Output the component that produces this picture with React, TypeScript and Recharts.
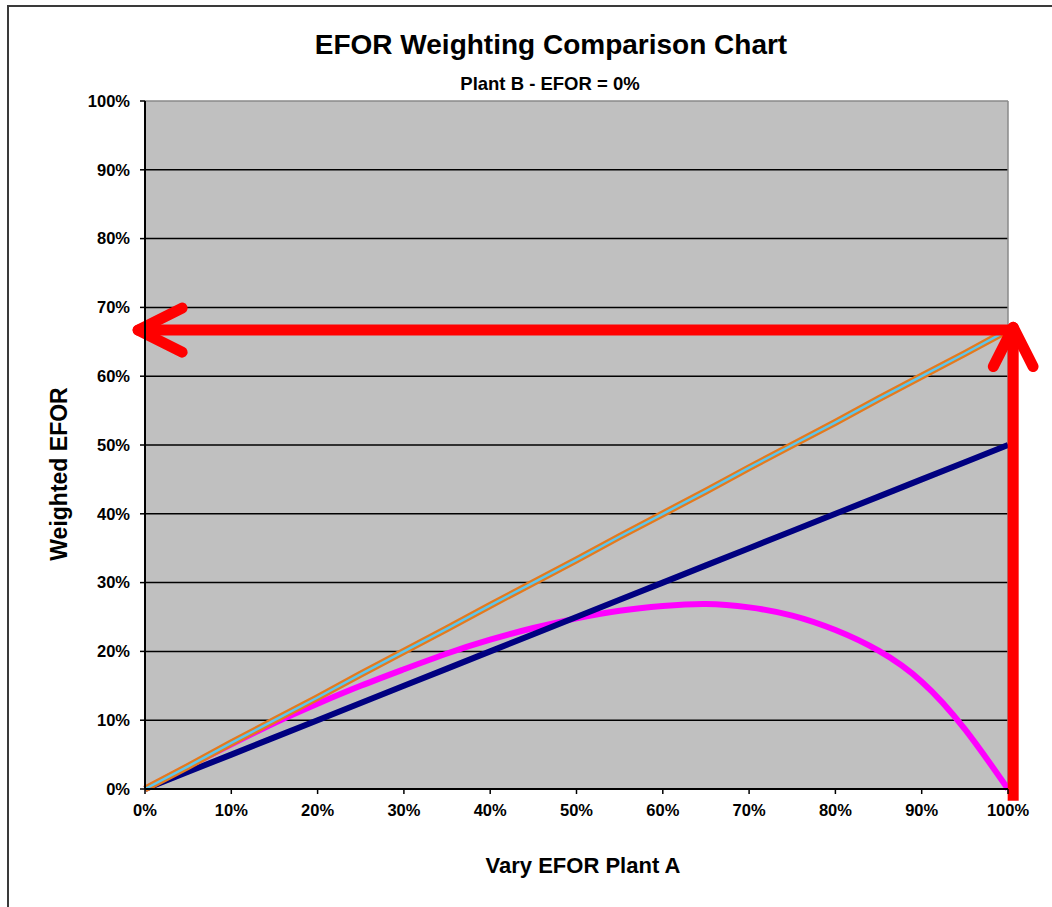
import { LineChart, Line, XAxis, YAxis, CartesianGrid, ReferenceLine } from 'recharts';

// Vary EFOR of plant A (x, %) against the weighted EFOR (y, %)
const plantA = [0, 5, 10, 15, 20, 25, 30, 35, 40, 45, 50, 55, 60, 65, 70, 75, 80, 85, 90, 95, 100];
const orangeSeries = [0, 3.3, 6.7, 10, 13.3, 16.7, 20, 23.3, 26.7, 30, 33.3, 36.7, 40, 43.3, 46.7, 50, 53.3, 56.7, 60, 63.3, 66.7];
const cyanSeries = [0, 3.3, 6.7, 10, 13.3, 16.7, 20, 23.3, 26.7, 30, 33.3, 36.7, 40, 43.3, 46.7, 50, 53.3, 56.7, 60, 63.3, 66.7];
const navySeries = [0, 2.5, 5, 7.5, 10, 12.5, 15, 17.5, 20, 22.5, 25, 27.5, 30, 32.5, 35, 37.5, 40, 42.5, 45, 47.5, 50];
const magentaSeries = [0, 3.3, 6.5, 9.6, 12.4, 15.0, 17.4, 19.7, 21.7, 23.4, 24.8, 25.9, 26.6, 26.9, 26.4, 25.2, 23.1, 20.1, 15.6, 8.7, 0];

const xTicks = [0, 10, 20, 30, 40, 50, 60, 70, 80, 90, 100];
const yTicks = [0, 10, 20, 30, 40, 50, 60, 70, 80, 90, 100];
const innerGrid = [10, 20, 30, 40, 50, 60, 70, 80, 90];

const data = plantA.map((x, i) => ({
  x,
  orange: orangeSeries[i],
  cyan: cyanSeries[i],
  navy: navySeries[i],
  magenta: magentaSeries[i],
}));

const FONT = '"Liberation Sans", Arial, sans-serif';
const tickStyle = { fill: '#000', fontSize: 16.5, fontWeight: 700, fontFamily: FONT };
const RED = '#FF0000';

export default function App() {
  return (
    <div style={{ position: 'absolute', left: 0, top: 0, width: 1052, height: 907, background: '#fff', overflow: 'hidden' }}>
      <div
        style={{
          position: 'absolute',
          left: 7,
          top: 5,
          width: 1100,
          height: 1000,
          borderLeft: '2px solid #3a3a3a',
          borderTop: '2px solid #3a3a3a',
        }}
      />
      <LineChart
        width={1052}
        height={907}
        data={data}
        margin={{ top: 101, right: 44, bottom: 88, left: 85 }}
        style={{ position: 'absolute', left: 0, top: 0 }}
      >
        <CartesianGrid
          vertical={false}
          horizontalValues={innerGrid}
          stroke="#000"
          strokeWidth={1.5}
          fill="#C0C0C0"
          fillOpacity={1}
        />
        <XAxis
          dataKey="x"
          type="number"
          domain={[0, 100]}
          ticks={xTicks}
          tickFormatter={(v: number) => `${v}%`}
          tick={tickStyle}
          axisLine={{ stroke: '#000', strokeWidth: 2 }}
          tickLine={{ stroke: '#000', strokeWidth: 1.5 }}
          tickSize={5}
          tickMargin={10}
          height={30}
          interval={0}
        />
        <YAxis
          type="number"
          domain={[0, 100]}
          ticks={yTicks}
          tickFormatter={(v: number) => `${v}%`}
          tick={tickStyle}
          axisLine={{ stroke: '#000', strokeWidth: 2 }}
          tickLine={{ stroke: '#000', strokeWidth: 1.5 }}
          tickSize={5}
          tickMargin={10}
          width={60}
          interval={0}
        />
        <ReferenceLine y={100} stroke="#8a8a8a" strokeWidth={1.5} />
        <ReferenceLine x={100} stroke="#8a8a8a" strokeWidth={1.5} />
        <Line type="natural" dataKey="magenta" stroke="#FF00FF" strokeWidth={6} dot={false} isAnimationActive={false} />
        <Line type="linear" dataKey="navy" stroke="#000080" strokeWidth={6} dot={false} isAnimationActive={false} />
        <Line type="linear" dataKey="orange" stroke="#E47A1E" strokeWidth={7} dot={false} isAnimationActive={false} />
        <Line type="linear" dataKey="cyan" stroke="#5CC6EE" strokeWidth={2.5} dot={false} isAnimationActive={false} />
        {/* red annotation arrows */}
        <ReferenceLine segment={[{ x: -0.8, y: 66.7 }, { x: 100.6, y: 66.7 }]} stroke={RED} strokeWidth={11} ifOverflow="visible" />
        <ReferenceLine segment={[{ x: -0.8, y: 66.7 }, { x: 4.3, y: 69.9 }]} stroke={RED} strokeWidth={11} strokeLinecap="round" ifOverflow="visible" />
        <ReferenceLine segment={[{ x: -0.8, y: 66.7 }, { x: 4.3, y: 63.5 }]} stroke={RED} strokeWidth={11} strokeLinecap="round" ifOverflow="visible" />
        <ReferenceLine segment={[{ x: 100.6, y: -1.7 }, { x: 100.6, y: 67.1 }]} stroke={RED} strokeWidth={11} ifOverflow="visible" />
        <ReferenceLine segment={[{ x: 100.6, y: 67.1 }, { x: 98.3, y: 61.4 }]} stroke={RED} strokeWidth={11} strokeLinecap="round" ifOverflow="visible" />
        <ReferenceLine segment={[{ x: 100.6, y: 67.1 }, { x: 102.9, y: 61.4 }]} stroke={RED} strokeWidth={11} strokeLinecap="round" ifOverflow="visible" />
      </LineChart>
      <svg width={1052} height={907} style={{ position: 'absolute', left: 0, top: 0, pointerEvents: 'none' }}>
        <text x={551} y={54} textAnchor="middle" fontFamily={FONT} fontWeight={700} fontSize={28} fill="#000">
          EFOR Weighting Comparison Chart
        </text>
        <text x={550} y={90} textAnchor="middle" fontFamily={FONT} fontWeight={700} fontSize={18.5} fill="#000">
          Plant B - EFOR = 0%
        </text>
        <text x={583} y={873} textAnchor="middle" fontFamily={FONT} fontWeight={700} fontSize={22} fill="#000">
          Vary EFOR Plant A
        </text>
        <text
          x={0}
          y={0}
          transform="translate(67,474) rotate(-90)"
          textAnchor="middle"
          fontFamily={FONT}
          fontWeight={700}
          fontSize={23}
          fill="#000"
        >
          Weighted EFOR
        </text>
      </svg>
    </div>
  );
}
